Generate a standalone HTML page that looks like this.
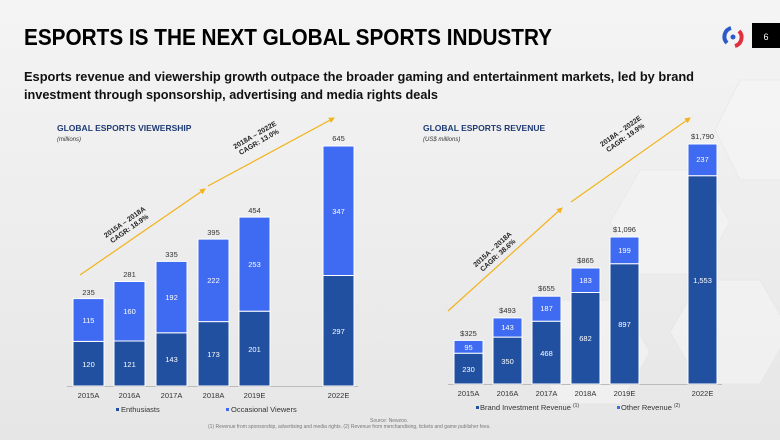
<!DOCTYPE html>
<html><head><meta charset="utf-8"><style>
body{margin:0;width:780px;height:440px;overflow:hidden;background:linear-gradient(180deg,#f4f4f4,#ececec 60%,#e6e6e6);font-family:"Liberation Sans",sans-serif}
svg{position:absolute;left:0;top:0}
</style></head><body>
<svg width="780" height="440" viewBox="0 0 780 440" font-family="Liberation Sans, sans-serif">
<defs><marker id="ah" viewBox="0 0 6 6" refX="5" refY="3" markerWidth="5" markerHeight="5" orient="auto"><path d="M0,0L6,3L0,6z" fill="#f2b31c"/></marker></defs>
<g fill="#f6f6f6" stroke="#e6e6e6" stroke-width="1" opacity="0.6">
<polygon points="640,170 700,170 730,222 700,274 640,274 610,222"/>
<polygon points="700,280 760,280 790,332 760,384 700,384 670,332"/>
<polygon points="560,300 620,300 650,352 620,404 560,404 530,352"/>
<polygon points="740,80 790,80 790,180 740,180 715,130"/>
</g>
<text x="24" y="45" font-size="23" font-weight="bold" fill="#000" textLength="528" lengthAdjust="spacingAndGlyphs">ESPORTS IS THE NEXT GLOBAL SPORTS INDUSTRY</text>
<rect x="752" y="23" width="28" height="25" fill="#000"/>
<text x="766" y="40" font-size="9" fill="#fff" text-anchor="middle">6</text>
<g transform="translate(733,37)"><path d="M-2,-9 A9,9 0 0 0 -6,6" stroke="#2a5bc8" stroke-width="4" fill="none"/><path d="M2,9 A9,9 0 0 0 6,-6" stroke="#e0303c" stroke-width="4" fill="none"/><circle cx="0" cy="0" r="2.5" fill="#2a5bc8"/></g>
<text x="24" y="81" font-size="13" font-weight="bold" fill="#111" textLength="670" lengthAdjust="spacingAndGlyphs">Esports revenue and viewership growth outpace the broader gaming and entertainment markets, led by brand</text>
<text x="24" y="99" font-size="13" font-weight="bold" fill="#111" textLength="414" lengthAdjust="spacingAndGlyphs">investment through sponsorship, advertising and media rights deals</text>
<text x="57" y="131" font-size="8.5" font-weight="bold" fill="#1f3b73">GLOBAL ESPORTS VIEWERSHIP</text>
<text x="57" y="141" font-size="6" font-style="italic" fill="#333">(millions)</text>
<text x="423" y="131" font-size="8.5" font-weight="bold" fill="#1f3b73">GLOBAL ESPORTS REVENUE</text>
<text x="423" y="141" font-size="6" font-style="italic" fill="#333">(US$ millions)</text>
<g stroke="#f2b31c" stroke-width="1.2" marker-end="url(#ah)">
<line x1="80" y1="275" x2="205" y2="189"/><line x1="208" y1="186" x2="334" y2="118"/>
<line x1="448" y1="311" x2="562" y2="208"/><line x1="571" y1="202" x2="690" y2="118"/>
</g>
<g font-size="7" font-weight="bold" fill="#222" text-anchor="middle">
<g transform="translate(126,224) rotate(-35)"><text>2015A – 2018A</text><text y="8">CAGR: 18.9%</text></g>
<g transform="translate(256,137) rotate(-30)"><text>2018A – 2022E</text><text y="8">CAGR: 13.0%</text></g>
<g transform="translate(494,251) rotate(-42)"><text>2015A – 2018A</text><text y="8">CAGR: 38.6%</text></g>
<g transform="translate(622,133) rotate(-35)"><text>2018A – 2022E</text><text y="8">CAGR: 19.9%</text></g>
</g>
<line x1="67" y1="386.5" x2="358" y2="386.5" stroke="#bbb"/>
<g stroke="#fff" stroke-width="1">
<rect x="73" y="341.4" width="31" height="44.6" fill="#2150a0"/><rect x="73" y="298.6" width="31" height="42.8" fill="#3f6af2"/>
<rect x="114" y="341" width="31" height="45" fill="#2150a0"/><rect x="114" y="281.5" width="31" height="59.5" fill="#3f6af2"/>
<rect x="156" y="332.8" width="31" height="53.2" fill="#2150a0"/><rect x="156" y="261.4" width="31" height="71.4" fill="#3f6af2"/>
<rect x="198" y="321.6" width="31" height="64.4" fill="#2150a0"/><rect x="198" y="239.1" width="31" height="82.5" fill="#3f6af2"/>
<rect x="239" y="311.2" width="31" height="74.8" fill="#2150a0"/><rect x="239" y="217.1" width="31" height="94.1" fill="#3f6af2"/>
<rect x="323" y="275.5" width="31" height="110.5" fill="#2150a0"/><rect x="323" y="146" width="31" height="129.5" fill="#3f6af2"/>
</g>
<g font-size="7.5" fill="#fff" text-anchor="middle">
<text x="88.5" y="367">120</text><text x="88.5" y="323">115</text>
<text x="129.5" y="367">121</text><text x="129.5" y="314">160</text>
<text x="171.5" y="362">143</text><text x="171.5" y="300">192</text>
<text x="213.5" y="357">173</text><text x="213.5" y="283">222</text>
<text x="254.5" y="352">201</text><text x="254.5" y="267">253</text>
<text x="338.5" y="334">297</text><text x="338.5" y="214">347</text>
</g>
<g font-size="7.5" fill="#333" text-anchor="middle">
<text x="88.5" y="295">235</text><text x="129.5" y="277">281</text><text x="171.5" y="257">335</text><text x="213.5" y="235">395</text><text x="254.5" y="213">454</text><text x="338.5" y="141">645</text>
<text x="88.5" y="398">2015A</text><text x="129.5" y="398">2016A</text><text x="171.5" y="398">2017A</text><text x="213.5" y="398">2018A</text><text x="254.5" y="398">2019E</text><text x="338.5" y="398">2022E</text>
</g>
<rect x="116" y="408" width="3" height="3" fill="#2150a0"/><text x="121" y="412" font-size="7.5" fill="#333">Enthusiasts</text>
<rect x="226" y="408" width="3" height="3" fill="#3f6af2"/><text x="231" y="412" font-size="7.5" fill="#333">Occasional Viewers</text>
<line x1="448" y1="384.5" x2="722" y2="384.5" stroke="#bbb"/>
<g stroke="#fff" stroke-width="1">
<rect x="454" y="353.2" width="29" height="30.8" fill="#2150a0"/><rect x="454" y="340.4" width="29" height="12.8" fill="#3f6af2"/>
<rect x="493" y="337.1" width="29" height="46.9" fill="#2150a0"/><rect x="493" y="317.9" width="29" height="19.2" fill="#3f6af2"/>
<rect x="532" y="321.2" width="29" height="62.8" fill="#2150a0"/><rect x="532" y="296.2" width="29" height="25" fill="#3f6af2"/>
<rect x="571" y="292.5" width="29" height="91.5" fill="#2150a0"/><rect x="571" y="268" width="29" height="24.5" fill="#3f6af2"/>
<rect x="610" y="263.7" width="29" height="120.3" fill="#2150a0"/><rect x="610" y="237" width="29" height="26.7" fill="#3f6af2"/>
<rect x="688" y="175.7" width="29" height="208.3" fill="#2150a0"/><rect x="688" y="144" width="29" height="31.7" fill="#3f6af2"/>
</g>
<g font-size="7.5" fill="#fff" text-anchor="middle">
<text x="468.5" y="372">230</text><text x="468.5" y="350">95</text>
<text x="507.5" y="364">350</text><text x="507.5" y="330">143</text>
<text x="546.5" y="356">468</text><text x="546.5" y="311">187</text>
<text x="585.5" y="341">682</text><text x="585.5" y="283">183</text>
<text x="624.5" y="327">897</text><text x="624.5" y="253">199</text>
<text x="702.5" y="283">1,553</text><text x="702.5" y="162">237</text>
</g>
<g font-size="7.5" fill="#333" text-anchor="middle">
<text x="468.5" y="336">$325</text><text x="507.5" y="313">$493</text><text x="546.5" y="291">$655</text><text x="585.5" y="263">$865</text><text x="624.5" y="232">$1,096</text><text x="702.5" y="139">$1,790</text>
<text x="468.5" y="396">2015A</text><text x="507.5" y="396">2016A</text><text x="546.5" y="396">2017A</text><text x="585.5" y="396">2018A</text><text x="624.5" y="396">2019E</text><text x="702.5" y="396">2022E</text>
</g>
<rect x="476" y="406" width="3" height="3" fill="#2150a0"/><text x="480" y="410" font-size="7.5" fill="#333">Brand Investment Revenue <tspan font-size="5" dy="-3">(1)</tspan></text>
<rect x="617" y="406" width="3" height="3" fill="#3f6af2"/><text x="621" y="410" font-size="7.5" fill="#333">Other Revenue <tspan font-size="5" dy="-3">(2)</tspan></text>
<text x="370" y="422" font-size="5" fill="#777">Source: Newzoo.</text>
<text x="208" y="428" font-size="5" fill="#777">(1) Revenue from sponsorship, advertising and media rights. (2) Revenue from merchandising, tickets and game publisher fees.</text>
</svg>
</body></html>
